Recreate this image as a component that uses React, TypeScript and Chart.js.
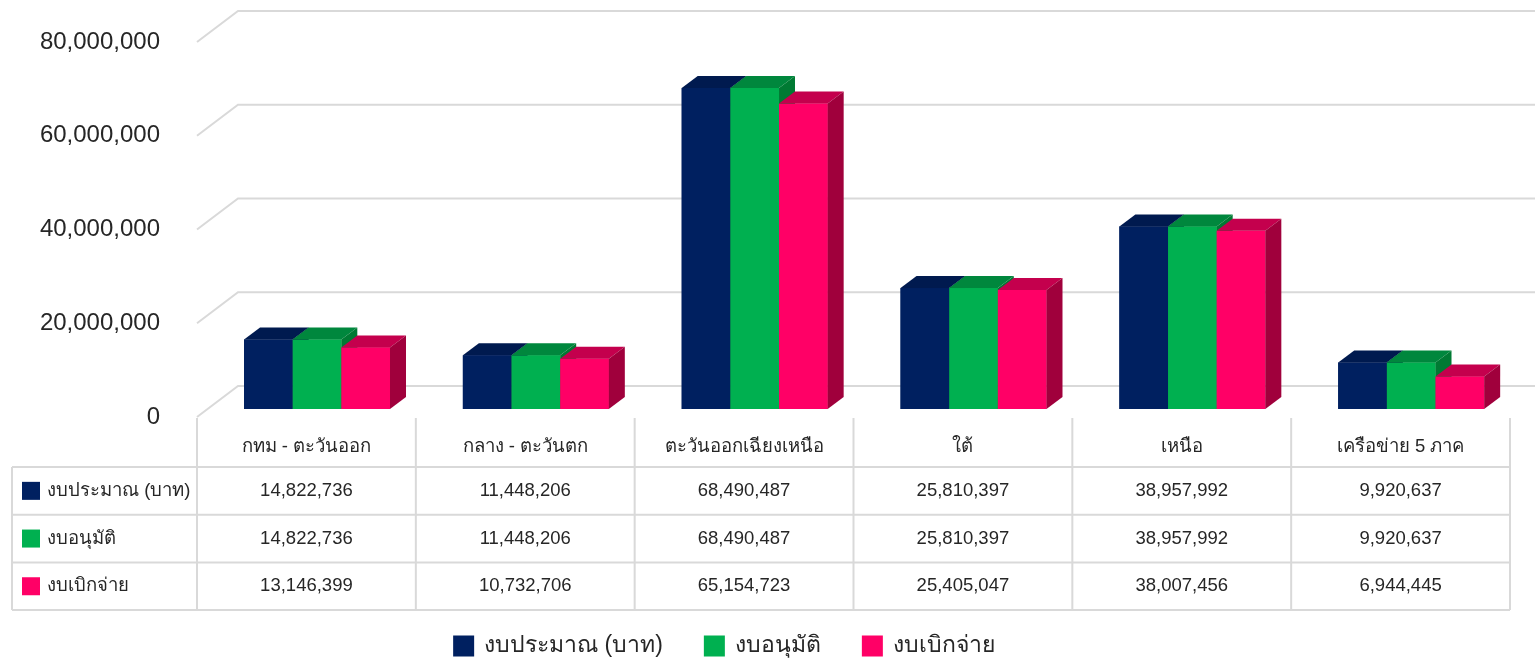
import React, { useEffect, useRef } from "react";
import { Chart, registerables } from "chart.js";

Chart.register(...registerables);

const categories = ["กทม - ตะวันออก", "กลาง - ตะวันตก", "ตะวันออกเฉียงเหนือ", "ใต้", "เหนือ", "เครือข่าย 5 ภาค"];
const seriesNames = ["งบประมาณ (บาท)", "งบอนุมัติ", "งบเบิกจ่าย"];
const budget = [14822736, 11448206, 68490487, 25810397, 38957992, 9920637];
const approved = [14822736, 11448206, 68490487, 25810397, 38957992, 9920637];
const disbursed = [13146399, 10732706, 65154723, 25405047, 38007456, 6944445];
const yTicks = [0, 20000000, 40000000, 60000000, 80000000];

const frontColors = ["#002060", "#00B050", "#FF0066"];
const topColors = ["#001A4F", "#00873D", "#C4004D"];
const sideColors = ["#001540", "#007A33", "#A0003C"];

const GRID = "#D9D9D9";
const TEXT = "#262626";
const FONT = '"Liberation Sans", Arial, "Noto Sans", sans-serif';
const BAR_DX = 16;
const BAR_DY = -12;
const FRONT_DX = -10.6;
const FRONT_DY = 8;
const BACK_DX = 30.4;
const BACK_DY = -23;

const fmt = (v: number) => v.toLocaleString("en-US");

function poly(ctx: CanvasRenderingContext2D, pts: number[][], color: string) {
  ctx.fillStyle = color;
  ctx.beginPath();
  ctx.moveTo(pts[0][0], pts[0][1]);
  for (let i = 1; i < pts.length; i++) ctx.lineTo(pts[i][0], pts[i][1]);
  ctx.closePath();
  ctx.fill();
}

const excel3d = {
  id: "excel3d",
  beforeDatasetsDraw(chart: any) {
    const ctx: CanvasRenderingContext2D = chart.ctx;
    const ys = chart.scales.y;
    const area = chart.chartArea;
    ctx.save();
    ctx.strokeStyle = GRID;
    ctx.lineWidth = 2;
    for (const v of yTicks) {
      const yb = ys.getPixelForValue(v);
      ctx.beginPath();
      ctx.moveTo(area.left + FRONT_DX, yb + FRONT_DY);
      ctx.lineTo(area.left + BACK_DX, yb + BACK_DY);
      ctx.lineTo(chart.width, yb + BACK_DY);
      ctx.stroke();
    }
    ctx.fillStyle = TEXT;
    ctx.font = `24px ${FONT}`;
    ctx.textAlign = "right";
    ctx.textBaseline = "middle";
    for (const v of yTicks) {
      ctx.fillText(fmt(v), area.left + FRONT_DX - 37, ys.getPixelForValue(v) + FRONT_DY);
    }
    ctx.restore();
  },
  afterDatasetsDraw(chart: any) {
    const ctx: CanvasRenderingContext2D = chart.ctx;
    const area = chart.chartArea;
    const xs = chart.scales.x;
    const n = chart.data.labels.length;
    const nd = chart.data.datasets.length;
    ctx.save();
    for (let i = 0; i < n; i++) {
      for (let d = 0; d < nd; d++) {
        const el = chart.getDatasetMeta(d).data[i];
        const { x, y, base, width } = el.getProps(["x", "y", "base", "width"], true);
        const l = x - width / 2;
        const r = x + width / 2;
        ctx.fillStyle = frontColors[d];
        ctx.fillRect(l, y, width, base - y);
        poly(ctx, [[l, y], [l + BAR_DX, y + BAR_DY], [r + BAR_DX, y + BAR_DY], [r, y]], topColors[d]);
        poly(ctx, [[r, y], [r + BAR_DX, y + BAR_DY], [r + BAR_DX, base + BAR_DY], [r, base]], sideColors[d]);
      }
    }

    // data table
    const catW = (area.right - area.left) / n;
    const colLeft = (i: number) => xs.getPixelForValue(i) - catW / 2 + FRONT_DX;
    const tTop = area.bottom + 9;
    const headH = 49;
    const rowH = 47.7;
    const legendLeft = 12;
    const tableRight = colLeft(n - 1) + catW;
    const rowsTop = tTop + headH;
    const tBottom = rowsTop + rowH * nd;

    ctx.strokeStyle = GRID;
    ctx.lineWidth = 2;
    ctx.beginPath();
    for (let i = 0; i <= n; i++) {
      const xx = i < n ? colLeft(i) : tableRight;
      ctx.moveTo(xx, tTop);
      ctx.lineTo(xx, tBottom);
    }
    ctx.moveTo(legendLeft, rowsTop);
    ctx.lineTo(legendLeft, tBottom);
    for (let r = 0; r <= nd; r++) {
      const yy = rowsTop + rowH * r;
      ctx.moveTo(legendLeft, yy);
      ctx.lineTo(tableRight, yy);
    }
    ctx.stroke();

    ctx.fillStyle = TEXT;
    ctx.font = `18.5px ${FONT}`;
    ctx.textAlign = "center";
    ctx.textBaseline = "middle";
    for (let i = 0; i < n; i++) {
      const cx = colLeft(i) + catW / 2;
      ctx.fillText(categories[i], cx, tTop + 29);
      for (let d = 0; d < nd; d++) {
        const v = chart.data.datasets[d].data[i];
        ctx.fillText(fmt(v), cx, rowsTop + rowH * d + rowH / 2);
      }
    }
    ctx.textAlign = "left";
    for (let d = 0; d < nd; d++) {
      const cy = rowsTop + rowH * d + rowH / 2;
      ctx.fillStyle = frontColors[d];
      ctx.fillRect(22, cy - 9, 18, 18);
      ctx.fillStyle = TEXT;
      ctx.fillText(chart.data.datasets[d].label, 47, cy);
    }

    // bottom legend
    ctx.font = `23px ${FONT}`;
    const sq = 21;
    const gapText = 10;
    const gapItem = 41;
    const widths = chart.data.datasets.map((ds: any) => ctx.measureText(ds.label).width);
    let total = 0;
    widths.forEach((w: number, k: number) => {
      total += sq + gapText + w + (k < nd - 1 ? gapItem : 0);
    });
    let lx = 724 - total / 2;
    const ly = 646;
    for (let d = 0; d < nd; d++) {
      ctx.fillStyle = frontColors[d];
      ctx.fillRect(lx, ly - sq / 2, sq, sq);
      ctx.fillStyle = TEXT;
      ctx.fillText(chart.data.datasets[d].label, lx + sq + gapText, ly);
      lx += sq + gapText + widths[d] + gapItem;
    }
    ctx.restore();
  },
};

export default function App() {
  const ref = useRef<HTMLCanvasElement | null>(null);
  useEffect(() => {
    document.body.style.margin = "0";
    const canvas = ref.current;
    if (!canvas) return;
    const values = [budget, approved, disbursed];
    const chart = new Chart(canvas, {
      type: "bar",
      data: {
        labels: categories,
        datasets: values.map((vals, d) => ({
          label: seriesNames[d],
          data: vals,
          backgroundColor: frontColors[d],
          borderWidth: 0,
          barPercentage: 1,
          categoryPercentage: 0.667,
        })),
      },
      options: {
        animation: false,
        responsive: false,
        maintainAspectRatio: false,
        layout: { padding: { left: 207.6, right: 14.4, top: 34, bottom: 250 } },
        scales: {
          x: { display: false },
          y: { display: false, min: 0, max: 80000000 },
        },
        plugins: { legend: { display: false }, tooltip: { enabled: false } },
      },
      plugins: [excel3d],
    } as any);
    return () => chart.destroy();
  }, []);
  return (
    <div style={{ width: 1535, height: 659, background: "#fff" }}>
      <canvas ref={ref} width={1535} height={659} style={{ display: "block" }} />
    </div>
  );
}
